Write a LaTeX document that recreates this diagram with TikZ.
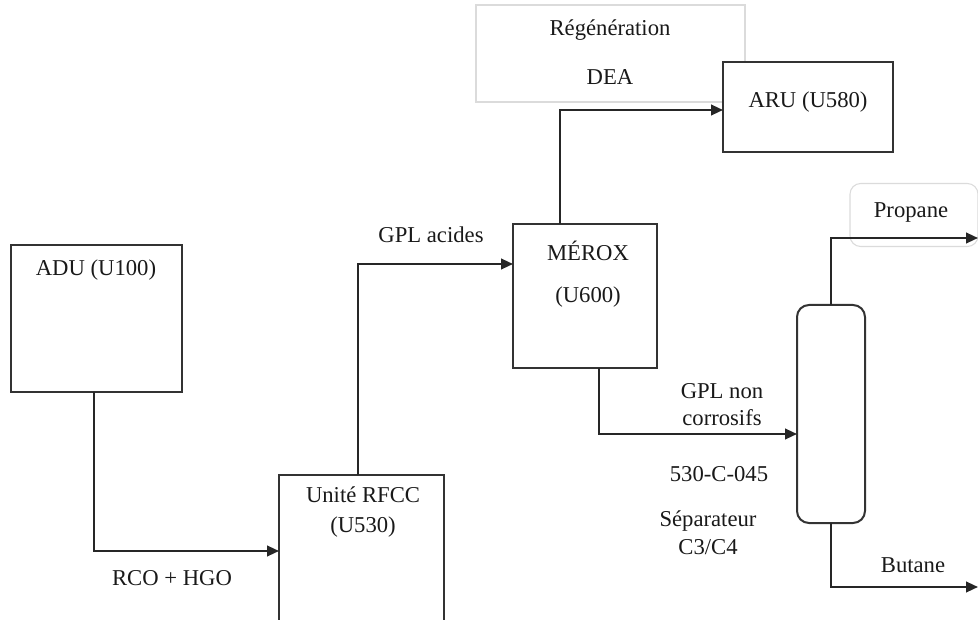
\documentclass[tikz,border=0pt]{standalone}
\usepackage{fontspec}
\setmainfont{Liberation Serif}
\usetikzlibrary{arrows.meta}
\begin{document}
\begin{tikzpicture}[x=0.75pt,y=-0.75pt,
  every node/.style={font=\fontsize{17}{20}\selectfont, text=black!90},
  unit/.style 2 args={draw=black!80, line width=1.5pt, fill=white, inner sep=0pt, outer sep=0pt,
    minimum width=#1*0.75pt, minimum height=#2*0.75pt},
  faint/.style={draw=black!14, line width=0.8pt},
  flow/.style={draw=black!85, line width=1.6pt, line join=miter,
    -{Triangle[length=9pt,width=8pt]}},
  lbl/.style={inner sep=0pt, anchor=center}]
\useasboundingbox (0,0) rectangle (978,620);

% process units (the DEA frame sits behind the ARU box)
\node[unit={269}{97}, faint] (regen) at (610.5,53.5) {};
\node[unit={171}{147}] (adu) at (96.5,318.5) {};
\node[unit={165}{148}] (rfcc) at (361.5,549) {};
\node[unit={144}{144}] (merox) at (585,296) {};
\node[unit={170}{90}] (aru) at (808,107) {};
\node[unit={68}{218}, rounded corners=9pt] (col) at (831,414) {};
\node[unit={128}{63}, faint, rounded corners=8pt] (prop) at (914,215) {};

% unit captions
\node[lbl] (tadu) at (96,270) {ADU (U100)};
\node[lbl] (trfcc1) at (363,495) {Unité RFCC};
\node[lbl] (trfcc2) at (363,527) {(U530)};
\node[lbl] (tmer1) at (588,251) {MÉROX};
\node[lbl] (tmer2) at (588,297) {(U600)};
\node[lbl] (taru) at (808,102) {ARU (U580)};
\node[lbl] (treg1) at (610,30) {Régénération};
\node[lbl] (treg2) at (610,77) {DEA};
\node[lbl] (tprop) at (911,212) {Propane};

% stream labels
\node[lbl] (trco) at (172,578) {RCO + HGO};
\node[lbl] (tgpla) at (431,235) {GPL acides};
\node[lbl] (tgpln1) at (722,391) {GPL non};
\node[lbl] (tgpln2) at (722,418) {corrosifs};
\node[lbl] (tcol) at (719,474) {530-C-045};
\node[lbl] (tsep1) at (708,521) {Séparateur};
\node[lbl] (tsep2) at (708,547) {C3/C4};
\node[lbl] (tbut) at (913,565) {Butane};

% bends and outlets
\coordinate (b1) at (94,551);
\coordinate (b2) at (358,264);
\coordinate (b3) at (560,110);
\coordinate (b4) at (599,434);
\coordinate (b5) at (831,238);
\coordinate (b6) at (831,587);
\coordinate (outP) at (978,238);
\coordinate (outB) at (978,587);

% streams
\draw[flow] (adu.south -| b1) -- (b1) -- (b1 -| rfcc.west);
\draw[flow] (rfcc.north -| b2) -- (b2) -- (b2 -| merox.west);
\draw[flow] (merox.north -| b3) -- (b3) -- (b3 -| aru.west);
\draw[flow] (merox.south -| b4) -- (b4) -- (b4 -| col.west);
\draw[flow] (col.north -| b5) -- (b5) -- (outP);
\draw[flow] (col.south -| b6) -- (b6) -- (outB);
\end{tikzpicture}
\end{document}
